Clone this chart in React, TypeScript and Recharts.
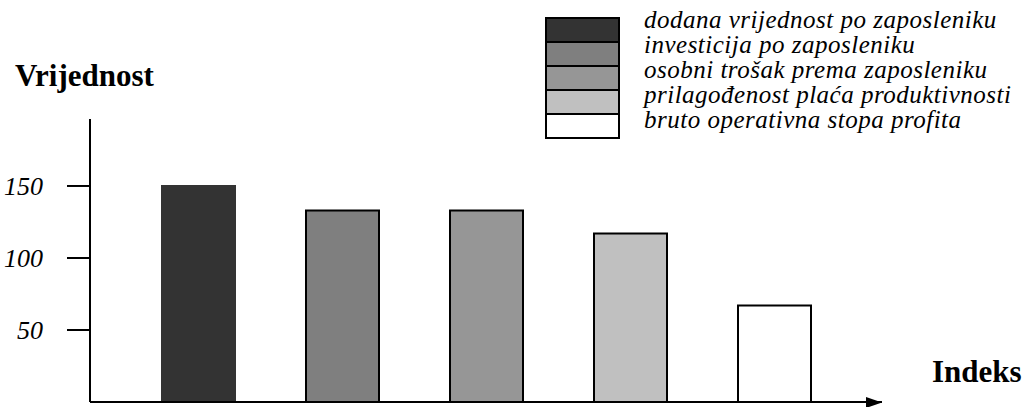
import { BarChart, Bar, XAxis, YAxis, Cell, Legend, Customized } from "recharts";

const categories = [
  "dodana vrijednost po zaposleniku",
  "investicija po zaposleniku",
  "osobni trošak prema zaposleniku",
  "prilagođenost plaća produktivnosti",
  "bruto operativna stopa profita",
];
const values = [150, 133, 133, 117, 67];
const fills = ["#333333", "#7f7f7f", "#969696", "#c0c0c0", "#ffffff"];
const yTicks = [50, 100, 150];

const data = categories.map((name, i) => ({ name, value: values[i] }));

const serif = "Liberation Serif, Times New Roman, Times, serif";

function LegendBox() {
  return (
    <div style={{ position: "relative", width: 480, fontFamily: serif, fontStyle: "italic", fontSize: 25, letterSpacing: 0.5 }}>
      <div style={{ position: "absolute", left: 0, top: 0, width: 71, border: "2px solid #000" }}>
        {categories.map((c, i) => (
          <div
            key={c}
            style={{
              height: 22,
              background: fills[i],
              borderTop: i > 0 ? "2px solid #000" : "none",
            }}
          />
        ))}
      </div>
      <div style={{ position: "absolute", left: 99, top: -10 }}>
        {categories.map((c) => (
          <div key={c} style={{ height: 25, lineHeight: "25px", whiteSpace: "nowrap" }}>
            {c}
          </div>
        ))}
      </div>
    </div>
  );
}

function Arrow() {
  return <polygon points="866,397 882,402.5 866,408" fill="#000" />;
}

export default function App() {
  return (
    <div style={{ position: "absolute", left: 0, top: 0, width: 1027, height: 407, background: "#fff" }}>
      <BarChart
        width={1027}
        height={407}
        data={data}
        margin={{ top: 119, right: 145, left: 0, bottom: 0 }}
      >
        <XAxis
          dataKey="name"
          height={5}
          tick={false}
          tickLine={false}
          axisLine={{ stroke: "#000", strokeWidth: 2 }}
          padding={{ left: 36, right: 36 }}
        />
        <YAxis
          width={90}
          domain={[0, 196.5]}
          allowDataOverflow
          ticks={yTicks}
          tickSize={23}
          tickMargin={24}
          axisLine={{ stroke: "#000", strokeWidth: 2 }}
          tickLine={{ stroke: "#000", strokeWidth: 2 }}
          tick={{ fill: "#000", fontFamily: serif, fontStyle: "italic", fontSize: 26 }}
        />
        <Legend
          verticalAlign="top"
          content={() => <LegendBox />}
          wrapperStyle={{ position: "absolute", left: 545, top: 17, width: 480 }}
        />
        <Bar dataKey="value" barSize={73} isAnimationActive={false}>
          {data.map((d, i) => (
            <Cell key={d.name} fill={fills[i]} stroke={i === 0 ? "#333333" : "#000"} strokeWidth={2} />
          ))}
        </Bar>
        <Customized component={Arrow} />
        <text x={15} y={86} fontFamily={serif} fontWeight="bold" fontSize={31} fill="#000">
          Vrijednost
        </text>
        <text x={932} y={382} fontFamily={serif} fontWeight="bold" fontSize={31} fill="#000">
          Indeks
        </text>
      </BarChart>
    </div>
  );
}
